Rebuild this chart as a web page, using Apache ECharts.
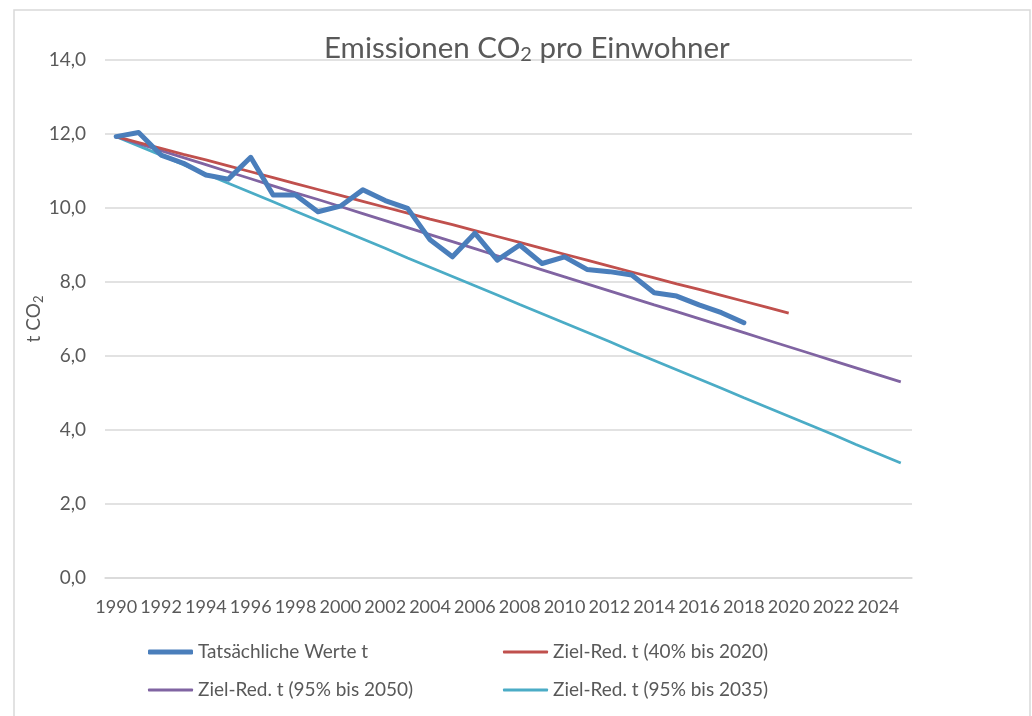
<!DOCTYPE html>
<html>
<head>
<meta charset="utf-8">
<script src="https://cdn.jsdelivr.net/npm/echarts@6/dist/echarts.min.js"></script>
<style>html,body{margin:0;padding:0;background:#fff;}#c{width:1032px;height:716px;}</style>
</head>
<body>
<div id="c"></div>
<script>
var years = ['1990','1991','1992','1993','1994','1995','1996','1997','1998','1999','2000','2001','2002','2003','2004','2005','2006','2007','2008','2009','2010','2011','2012','2013','2014','2015','2016','2017','2018','2019','2020','2021','2022','2023','2024','2025'];
var actual = [11.93,12.04,11.43,11.21,10.89,10.78,11.37,10.35,10.35,9.90,10.05,10.49,10.20,9.99,9.14,8.68,9.32,8.59,9.00,8.50,8.68,8.34,8.28,8.19,7.71,7.62,7.38,7.17,6.90];
var target40_2020 = [11.93,11.77,11.61,11.45,11.30,11.14,10.98,10.82,10.66,10.50,10.34,10.18,10.02,9.86,9.70,9.55,9.39,9.23,9.07,8.91,8.75,8.59,8.43,8.27,8.11,7.95,7.80,7.64,7.48,7.32,7.16];
var target95_2050 = [11.93,11.74,11.55,11.36,11.17,10.98,10.79,10.60,10.41,10.23,10.04,9.85,9.66,9.47,9.28,9.09,8.90,8.71,8.52,8.33,8.14,7.95,7.76,7.57,7.38,7.20,7.01,6.82,6.63,6.44,6.25,6.06,5.87,5.68,5.49,5.30];
var target95_2035 = [11.93,11.68,11.43,11.17,10.92,10.67,10.42,10.17,9.91,9.66,9.41,9.16,8.91,8.65,8.40,8.15,7.90,7.65,7.39,7.14,6.89,6.64,6.39,6.13,5.88,5.63,5.38,5.13,4.87,4.62,4.37,4.12,3.87,3.61,3.36,3.11];
var seriesNames = ['Tatsächliche Werte t','Ziel-Red. t (40% bis 2020)','Ziel-Red. t (95% bis 2050)','Ziel-Red. t (95% bis 2035)'];

var FONT = 'Lato';
var GRAY = '#595959';
var chart = echarts.init(document.getElementById('c'), null, {renderer:'canvas'});
function leg(name, left, top, h){
  return {data:[{name:name, icon:'roundRect'}], left:left, top:top, itemWidth:45, itemHeight:h, padding:0,
    textStyle:{fontFamily:FONT, fontSize:19, color:GRAY, lineHeight:20}};
}
chart.setOption({
  animation:false,
  backgroundColor:'#fff',
  graphic:[{type:'rect', shape:{x:14,y:10,width:1016,height:720}, style:{fill:'none', stroke:'#d9d9d9', lineWidth:1.5}, silent:true}],
  title:{
    text:'{a|Emissionen CO}{s|2}{a| pro Einwohner}',
    left:319, top:27,
    textStyle:{fontWeight:'normal', rich:{
      a:{fontFamily:FONT, fontSize:29.5, fontWeight:'normal', color:GRAY, lineHeight:33},
      s:{fontFamily:FONT, fontSize:20, fontWeight:'normal', color:GRAY, lineHeight:14, verticalAlign:'bottom'}
    }}
  },
  legend:[
    leg(seriesNames[0],148,642,5),
    leg(seriesNames[1],503,642,3),
    leg(seriesNames[2],148,680,3),
    leg(seriesNames[3],503,680,3)
  ],
  grid:{left:105, right:120, top:60, bottom:138, containLabel:false},
  xAxis:{
    type:'category', data:years, boundaryGap:true,
    axisLine:{lineStyle:{color:'#d9d9d9', width:1.5}},
    axisTick:{show:false},
    axisLabel:{interval:1, hideOverlap:false, margin:20, fontFamily:FONT, fontSize:18, color:GRAY}
  },
  yAxis:{
    type:'value', min:0, max:14, interval:2,
    name:'{a|t CO}{s|2}', nameLocation:'middle', nameGap:60, nameRotate:90, nameMoveOverlap:false,
    nameTextStyle:{rich:{
      a:{fontFamily:FONT, fontSize:19, color:GRAY, lineHeight:22},
      s:{fontFamily:FONT, fontSize:13, color:GRAY, lineHeight:10, verticalAlign:'bottom'}
    }},
    axisLine:{show:false}, axisTick:{show:false},
    splitLine:{lineStyle:{color:'#d9d9d9', width:1.5}},
    axisLabel:{margin:19, fontFamily:FONT, fontSize:19, color:GRAY,
      formatter:function(v){return v.toFixed(1).replace('.',',');}}
  },
  series:[
    {name:seriesNames[0], type:'line', data:actual, symbol:'none', z:5,
      lineStyle:{color:'#4a7ebb', width:5, cap:'round', join:'round'}, itemStyle:{color:'#4a7ebb'}},
    {name:seriesNames[1], type:'line', data:target40_2020, symbol:'none', z:4,
      lineStyle:{color:'#c0504d', width:2.8}, itemStyle:{color:'#c0504d'}},
    {name:seriesNames[2], type:'line', data:target95_2050, symbol:'none', z:3,
      lineStyle:{color:'#8064a2', width:2.8}, itemStyle:{color:'#8064a2'}},
    {name:seriesNames[3], type:'line', data:target95_2035, symbol:'none', z:2,
      lineStyle:{color:'#4bacc6', width:2.8}, itemStyle:{color:'#4bacc6'}}
  ]
});
</script>
</body>
</html>
